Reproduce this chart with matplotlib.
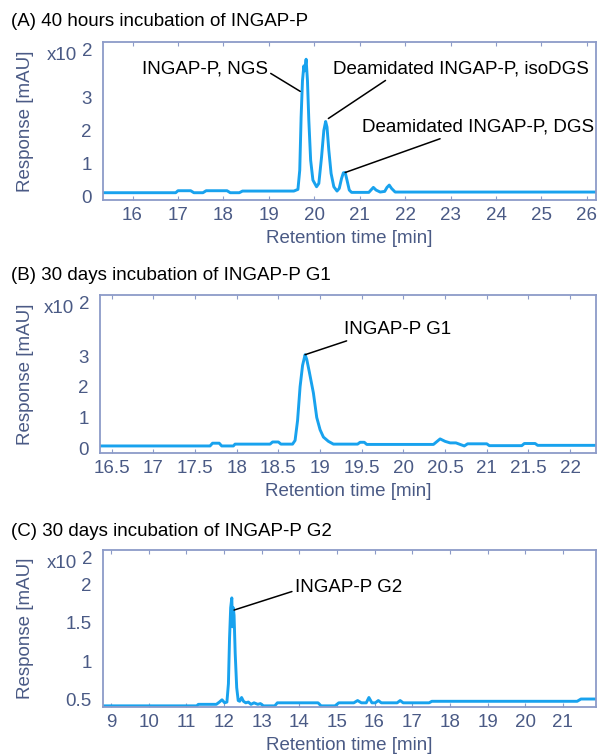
import matplotlib
matplotlib.use("Agg")
import matplotlib.pyplot as plt

plt.rcParams['font.family'] = ['Liberation Sans', 'DejaVu Sans']
plt.rcParams['font.size'] = 13.5

# (A) 40 hours incubation of INGAP-P
time_a = [15.35, 16.95, 17.0, 17.28, 17.35, 17.55, 17.62, 18.08, 18.15, 18.35,
          18.42, 19.55, 19.64, 19.68, 19.71, 19.74, 19.77, 19.79, 19.82, 19.85,
          19.88, 19.92, 19.97, 20.05, 20.1, 20.16, 20.21, 20.25, 20.28, 20.32,
          20.37, 20.43, 20.5, 20.55, 20.6, 20.64, 20.68, 20.72, 20.77, 20.82,
          21.2, 21.26, 21.3, 21.36, 21.45, 21.55, 21.6, 21.65, 21.7, 21.78,
          26.2]
resp_a = [0.12, 0.12, 0.18, 0.18, 0.12, 0.12, 0.18, 0.18, 0.12, 0.12,
          0.17, 0.17, 0.22, 0.8, 2.4, 3.5, 3.95, 3.8, 4.15, 3.5,
          2.3, 1.1, 0.5, 0.3, 0.4, 1.2, 2.0, 2.27, 2.1, 1.4,
          0.7, 0.3, 0.17, 0.25, 0.55, 0.72, 0.73, 0.5, 0.2, 0.13,
          0.13, 0.22, 0.28, 0.2, 0.14, 0.16, 0.28, 0.35, 0.25, 0.14,
          0.14]

# (B) 30 days incubation of INGAP-P G1
time_b = [16.36, 17.68, 17.71, 17.79, 17.82, 17.96, 17.98, 18.4, 18.43, 18.5,
          18.53, 18.67, 18.7, 18.73, 18.76, 18.79, 18.82, 18.84, 18.87, 18.92,
          18.96, 19.0, 19.04, 19.1, 19.16, 19.45, 19.48, 19.53, 19.56, 20.36,
          20.44, 20.5, 20.56, 20.63, 20.7, 20.73, 20.77, 20.8, 21.0, 21.03,
          21.42, 21.45, 21.58, 21.61, 22.31]
resp_b = [0.07, 0.07, 0.16, 0.16, 0.07, 0.07, 0.13, 0.13, 0.2, 0.2,
          0.13, 0.13, 0.25, 0.9, 2.0, 2.7, 3.05, 2.9, 2.5, 1.8,
          1.0, 0.6, 0.36, 0.22, 0.13, 0.13, 0.19, 0.19, 0.12, 0.12,
          0.3, 0.22, 0.17, 0.17, 0.1, 0.07, 0.14, 0.14, 0.14, 0.08,
          0.08, 0.15, 0.15, 0.09, 0.09]

# (C) 30 days incubation of INGAP-P G2
time_c = [8.79, 11.28, 11.32, 11.8, 11.88, 11.95, 12.02, 12.08, 12.12, 12.15,
          12.18, 12.21, 12.23, 12.25, 12.27, 12.3, 12.34, 12.38, 12.42, 12.47,
          12.52, 12.58, 12.65, 12.72, 12.8, 12.9, 12.97, 13.05, 13.2, 13.35,
          13.42, 14.5, 14.58, 14.95, 15.05, 15.45, 15.55, 15.65, 15.78, 15.85,
          15.93, 16.02, 16.1, 16.18, 16.6, 16.68, 16.76, 17.45, 17.52, 21.38,
          21.48, 21.88]
resp_c = [0.41, 0.41, 0.43, 0.43, 0.46, 0.49, 0.45, 0.46, 0.7, 1.3,
          1.7, 1.83, 1.45, 1.7, 1.6, 1.1, 0.65, 0.48, 0.47, 0.52,
          0.47, 0.45, 0.46, 0.43, 0.45, 0.43, 0.44, 0.41, 0.41, 0.41,
          0.45, 0.45, 0.41, 0.41, 0.45, 0.45, 0.48, 0.45, 0.45, 0.52,
          0.45, 0.45, 0.48, 0.45, 0.45, 0.48, 0.45, 0.45, 0.47, 0.47,
          0.5, 0.5]

titles = ["(A) 40 hours incubation of INGAP-P",
          "(B) 30 days incubation of INGAP-P G1",
          "(C) 30 days incubation of INGAP-P G2"]

xticks_a = [16, 17, 18, 19, 20, 21, 22, 23, 24, 25, 26]
xticks_b = [16.5, 17, 17.5, 18, 18.5, 19, 19.5, 20, 20.5, 21, 21.5, 22]
xticks_c = [9, 10, 11, 12, 13, 14, 15, 16, 17, 18, 19, 20, 21]
yticks_a = [0, 1, 2, 3]
yticks_b = [0, 1, 2, 3]
yticks_c = [0.5, 1, 1.5, 2]

# peak labels: (text, peak point, text anchor point, ha, relpos)
labels_a = [("INGAP-P, NGS", (19.69, 3.18), (18.98, 3.85), "right", (1.0, 0.35)),
            ("Deamidated INGAP-P, isoDGS", (20.31, 2.36), (20.42, 3.85), "left", (0.22, 0.0)),
            ("Deamidated INGAP-P, DGS", (20.68, 0.73), (21.05, 2.09), "left", (0.37, 0.0))]
labels_b = [("INGAP-P G1", (18.82, 3.05), (19.29, 3.87), "left", (0.1, 0.0))]
labels_c = [("INGAP-P G2", (12.27, 1.67), (13.88, 1.97), "left", (0.0, 0.3))]

line_col = "#18a2ee"
spine_col = "#8c9bc8"
tick_col = "#4a5a85"


def fmt(v):
    return ("%g" % v)


def draw_panel(ax, t, r, xlim, ylim, xticks, yticks, labels):
    ax.plot(t, r, color=line_col, lw=2.1, solid_joinstyle="round")
    ax.set_xlim(*xlim)
    ax.set_ylim(*ylim)
    ax.set_xticks(xticks)
    ax.set_xticklabels([fmt(v) for v in xticks])
    ax.set_yticks(yticks)
    ax.set_yticklabels([fmt(v) for v in yticks])
    for s in ax.spines.values():
        s.set_color(spine_col)
        s.set_linewidth(1.3)
    ax.tick_params(axis="x", direction="in", length=3, color=spine_col,
                   labelcolor=tick_col, pad=5)
    ax.tick_params(axis="y", direction="in", length=0, color=spine_col,
                   labelcolor=tick_col, pad=8)
    ax.tick_params(top=True, right=True, labeltop=False, labelright=False)

    for txt, xy, xyt, ha, rp in labels:
        ax.annotate(txt, xy=xy, xytext=xyt, ha=ha, va="center", color="black",
                    arrowprops=dict(arrowstyle="-", color="black", lw=1.1,
                                    shrinkA=0, shrinkB=0, relpos=rp))

    # exponent marker in top-left corner
    ax.annotate("x10", xy=(0, 1), xycoords="axes fraction",
                xytext=(-19, -10), textcoords="offset points",
                ha="right", va="center", color=tick_col)
    ax.annotate("2", xy=(0, 1), xycoords="axes fraction",
                xytext=(-11, -7), textcoords="offset points",
                ha="center", va="center", color=tick_col)
    ax.annotate("Retention time [min]", xy=(0.5, 0), xycoords="axes fraction",
                xytext=(0, -28), textcoords="offset points",
                ha="center", va="center", color=tick_col)


W, H = 598, 754
fig = plt.figure(figsize=(W / 100, H / 100), dpi=100)


def add_axes(left, top, right, bottom):
    return fig.add_axes([left / W, 1 - bottom / H, (right - left) / W, (bottom - top) / H])


ax_a = add_axes(103, 42, 596, 200)
ax_b = add_axes(100, 295, 596, 453)
ax_c = add_axes(103, 550, 596, 707)

draw_panel(ax_a, time_a, resp_a, (15.35, 26.2), (-0.1, 4.67), xticks_a, yticks_a, labels_a)
draw_panel(ax_b, time_b, resp_b, (16.36, 22.31), (-0.16, 5.0), xticks_b, yticks_b, labels_b)
draw_panel(ax_c, time_c, resp_c, (8.79, 21.88), (0.395, 2.46), xticks_c, yticks_c, labels_c)

for ttl, yc in zip(titles, [22, 275, 532]):
    fig.text(11 / W, 1 - yc / H, ttl, ha="left", va="center", color="black")

for yc in [121, 374, 628]:
    fig.text(25 / W, 1 - yc / H, "Response [mAU]", rotation=90,
             ha="center", va="center", color=tick_col)

fig.savefig("out.png", dpi=100)
